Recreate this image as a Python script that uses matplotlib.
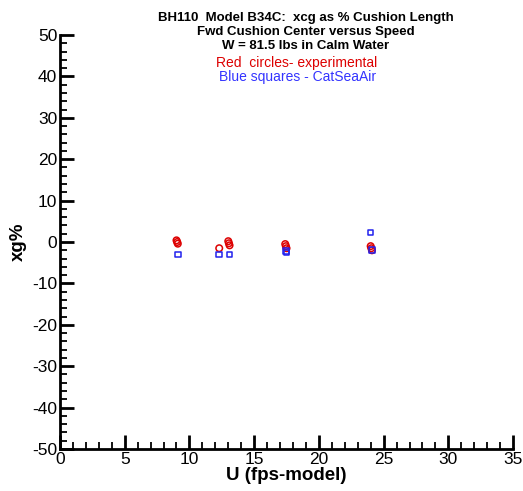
import matplotlib
matplotlib.use("Agg")
import matplotlib.pyplot as plt
from matplotlib.ticker import MultipleLocator

plt.rcParams['font.family'] = ['Liberation Sans', 'DejaVu Sans']
plt.rcParams['axes.unicode_minus'] = False

# Experimental (red circles)
exp_u = [9.0, 9.05, 9.1, 12.3, 13.0, 13.05, 13.1, 17.4, 17.45, 17.5, 24.0, 24.05, 24.1]
exp_xcg = [0.4, 0.0, -0.4, -1.5, 0.2, -0.3, -0.8, -0.5, -1.0, -1.5, -1.0, -1.5, -2.0]
# CatSeaAir (blue squares)
csa_u = [9.1, 12.3, 13.1, 17.45, 17.5, 24.0, 24.1]
csa_xcg = [-3.0, -3.0, -3.0, -2.2, -2.5, 2.3, -1.9]

title_lines = ["BH110  Model B34C:  xcg as % Cushion Length",
               "Fwd Cushion Center versus Speed",
               "W = 81.5 lbs in Calm Water"]

fig = plt.figure(figsize=(5.23, 4.91), dpi=100)
ax = fig.add_axes([0.1147, 0.0855, 0.8663, 0.8432])

ax.scatter(exp_u, exp_xcg, s=22, facecolors='none', edgecolors='#dd0000', linewidths=1.1, zorder=3)
ax.scatter(csa_u, csa_xcg, s=16, marker='s', facecolors='none', edgecolors='#2222ee', linewidths=1.1, zorder=3)

ax.set_xlim(0, 35)
ax.set_ylim(-50, 50)
ax.xaxis.set_major_locator(MultipleLocator(5))
ax.xaxis.set_minor_locator(MultipleLocator(1))
ax.yaxis.set_major_locator(MultipleLocator(10))
ax.yaxis.set_minor_locator(MultipleLocator(2))
for s in ['top', 'right']:
    ax.spines[s].set_visible(False)
for s in ['left', 'bottom']:
    ax.spines[s].set_linewidth(2)
ax.tick_params(which='major', direction='in', length=10, width=2, labelsize=12.5, pad=2)
ax.tick_params(which='minor', direction='in', length=5, width=1.3)

ax.set_xlabel("U (fps-model)", fontsize=13.5, fontweight='bold', labelpad=0)
ax.set_ylabel("xg%", fontsize=13.5, fontweight='bold', labelpad=4)

fig.text(0.585, 0.975, "\n".join(title_lines), ha='center', va='top',
         fontsize=9.5, fontweight='bold', linespacing=1.2)
fig.text(0.568, 0.872, "Red  circles- experimental", ha='center', va='center', fontsize=10, color='#dd0000')
fig.text(0.568, 0.843, "Blue squares - CatSeaAir", ha='center', va='center', fontsize=10, color='#3333ff')

fig.savefig("out.png", dpi=100)
